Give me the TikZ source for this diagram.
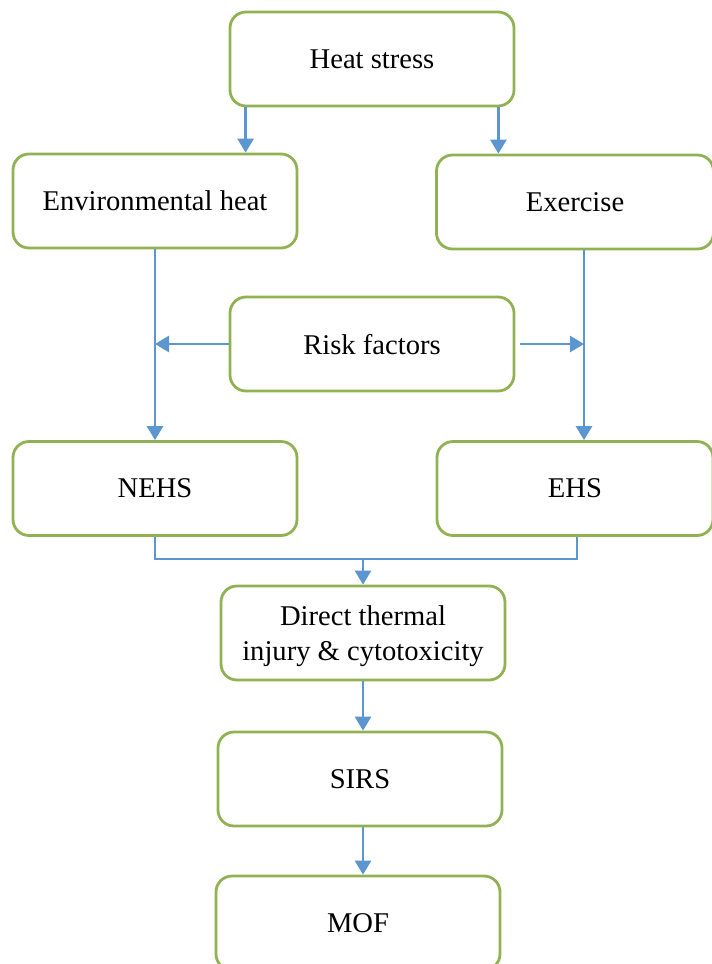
\documentclass[tikz,border=0pt]{standalone}
\usepackage{fontspec}
\setmainfont{Liberation Serif}
\usetikzlibrary{arrows.meta,positioning,calc}

\definecolor{boxgreen}{RGB}{145,178,82}
\definecolor{lineblue}{RGB}{91,150,208}

\begin{document}
\begin{tikzpicture}[
    x=0.5pt, y=-0.5pt,
    box/.style={rectangle, draw=boxgreen, line width=1.4pt, fill=white, minimum width=142pt, minimum height=47pt, rounded corners=8pt, align=center, font=\fontsize{14.3}{17.5}\selectfont, inner sep=2pt, text depth=0pt},
    arrow/.style={-{Triangle[length=7pt,width=8pt]}, draw=lineblue, fill=lineblue, line width=1.4pt},
    link/.style={draw=lineblue, line width=0.9pt}
]
\useasboundingbox (0,0) rectangle (712,964);

% Boxes
\node[box] (heat) at (372,59) {Heat stress};
\node[box] (env) at (155,201) {Environmental heat};
\node[box, minimum width=138.5pt] (exer) at (575,202) {Exercise};
\node[box] (risk) at (372,344) {Risk factors};
\node[box] (nehs) at (155,488.5) {NEHS};
\node[box, minimum width=138pt] (ehs) at (575,488.5) {EHS};
\node[box] (direct) at (363,633) {Direct thermal\\injury \& cytotoxicity};
\node[box] (sirs) at (360,779) {SIRS};
\node[box] (mof) at (358,923) {MOF};

% Helper coordinates
\coordinate (exline) at ([xshift=4.5pt]exer.south);
\coordinate (join) at (direct.north |- 0,559);

% Arrows
\draw[arrow] ([xshift=8.5pt]heat.south west) -- ([xshift=8.5pt]heat.south west |- env.north);
\draw[arrow] ([xshift=-8.5pt]heat.south east) -- ([xshift=-8.5pt]heat.south east |- exer.north);
\draw[arrow] (env.south) -- (nehs.north);
\draw[arrow] (exline) -- (exline |- ehs.north);
\draw[arrow] (risk.west) -- (risk.west -| env.south);
\draw[arrow] ([xshift=2.5pt]risk.east) -- (risk.east -| exline);
\draw[link] (nehs.south) |- (join) -| ([xshift=1pt]ehs.south);
\draw[arrow] (join) -- (direct.north);
\draw[arrow] (direct.south |- direct.south) -- (direct.south |- sirs.north);
\draw[arrow] (sirs.south -| 363,0) -- (mof.north -| 363,0);

\end{tikzpicture}
\end{document}
